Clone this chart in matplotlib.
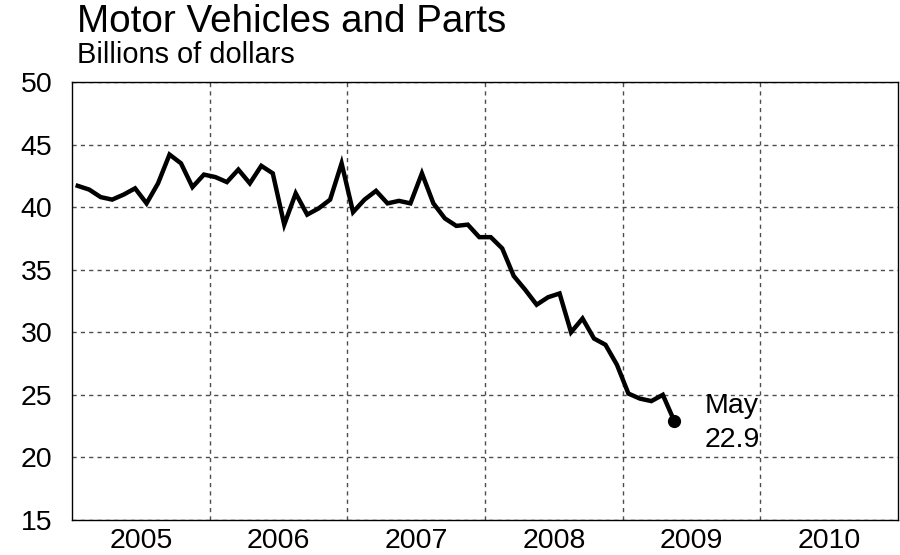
import numpy as np
import matplotlib
matplotlib.use("Agg")
import matplotlib.pyplot as plt

plt.rcParams['font.family'] = ['Liberation Sans', 'DejaVu Sans']

# monthly sales, Jan 2005 - May 2009, billions of dollars
v2005 = [41.7, 41.4, 40.8, 40.6, 41.0, 41.5, 40.3, 41.9, 44.2, 43.5, 41.6, 42.6]
v2006 = [42.4, 42.0, 43.0, 41.9, 43.3, 42.7, 38.6, 41.1, 39.4, 39.9, 40.6, 43.5]
v2007 = [39.6, 40.6, 41.3, 40.3, 40.5, 40.3, 42.7, 40.3, 39.1, 38.5, 38.6, 37.6]
v2008 = [37.6, 36.7, 34.5, 33.4, 32.2, 32.8, 33.1, 30.0, 31.1, 29.5, 29.0, 27.4]
v2009 = [25.1, 24.7, 24.5, 25.0, 22.9]
years = [2005, 2006, 2007, 2008, 2009, 2010]
yticks = [15, 20, 25, 30, 35, 40, 45, 50]
last_label = "May"

vals = np.array(v2005 + v2006 + v2007 + v2008 + v2009)
t = 2005 + (np.arange(len(vals)) + 0.5) / 12.0

fig = plt.figure(figsize=(9, 5.55), dpi=100)
ax = fig.add_axes([0.08, 0.0631, 0.9178, 0.7892])

ax.plot(t, vals, color='black', lw=3.2, solid_joinstyle='miter', zorder=3)
ax.plot(t[-1], vals[-1], 'o', color='black', ms=8.5, zorder=4)

ax.set_xlim(2005, 2011)
ax.set_ylim(15, 50)
ax.set_yticks(yticks)
ax.set_xticks([y + 0.5 for y in years])
ax.set_xticklabels([str(y) for y in years])
ax.set_xticks(years[1:], minor=True)
ax.tick_params(axis='both', which='both', length=0, labelsize=20.5)
ax.tick_params(axis='y', pad=14)
ax.tick_params(axis='x', pad=5.5)

ax.grid(True, axis='y', which='major', color='0.3', ls=(0, (3, 3)), lw=1)
ax.grid(True, axis='x', which='minor', color='0.3', ls=(0, (3, 3)), lw=1)
ax.grid(False, axis='x', which='major')
for s in ax.spines.values():
    s.set_color('black')
    s.set_linewidth(1)

ax.text(t[-1] + 0.22, vals[-1] + 0.65, last_label, fontsize=20.5, ha='left', va='baseline')
ax.text(t[-1] + 0.22, vals[-1] - 2.07, f"{vals[-1]:.1f}", fontsize=20.5, ha='left', va='baseline')

fig.text(77 / 900, 1 - 32 / 555, "Motor Vehicles and Parts", fontsize=27.8, ha='left', va='baseline')
fig.text(77 / 900, 1 - 63 / 555, "Billions of dollars", fontsize=20.9, ha='left', va='baseline')

fig.savefig("out.png", dpi=100)
